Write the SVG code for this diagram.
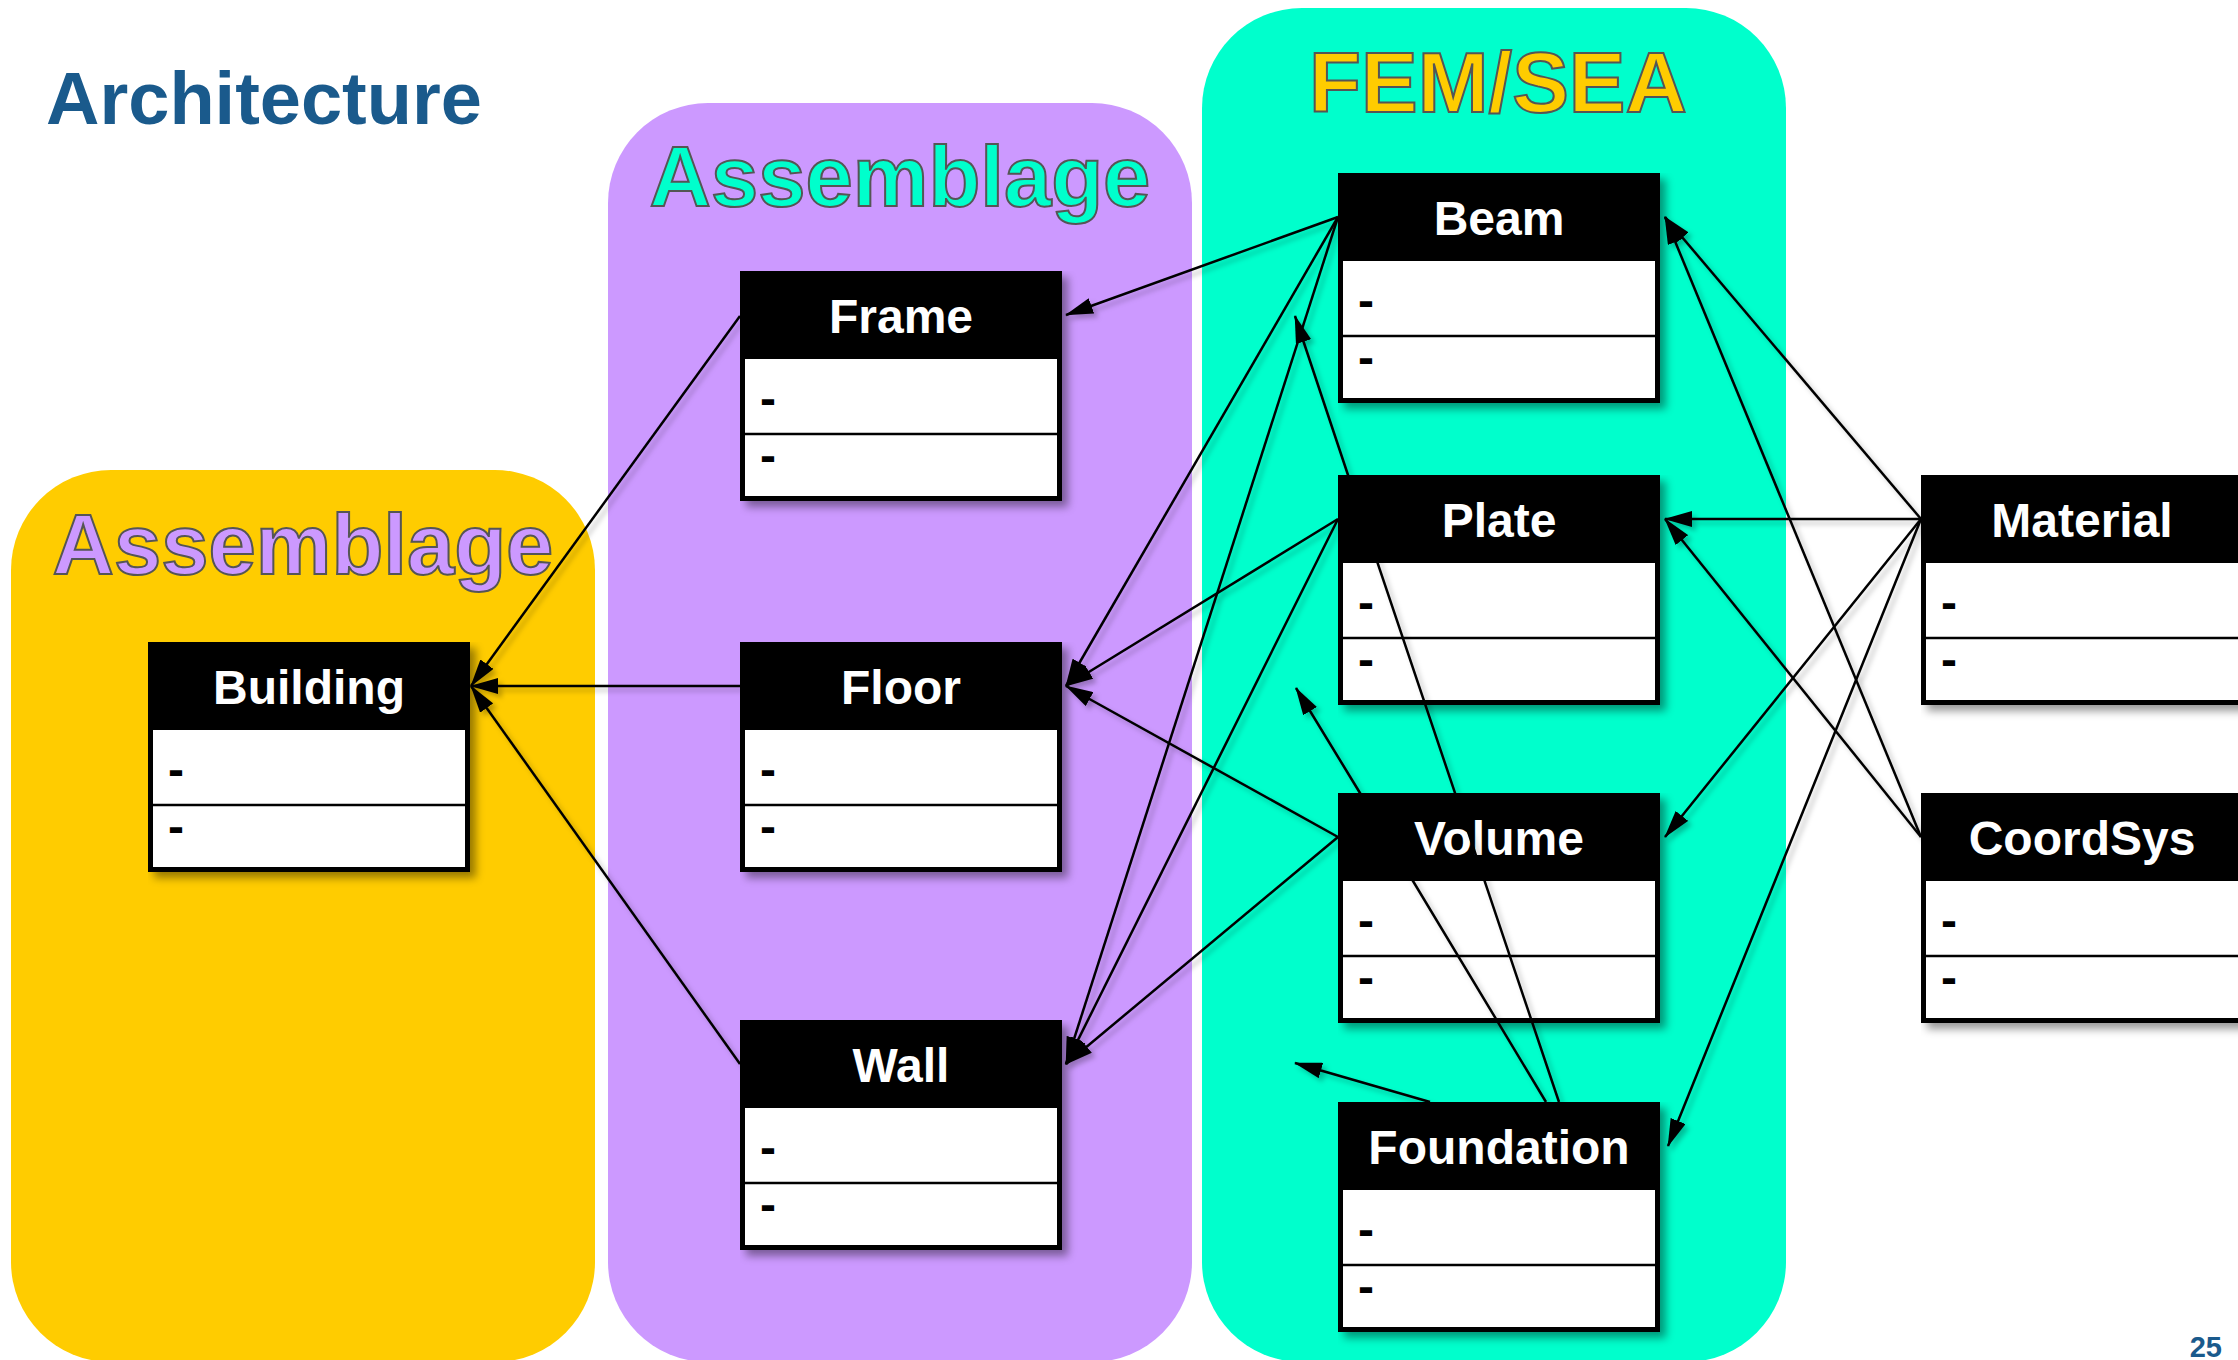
<svg xmlns="http://www.w3.org/2000/svg" width="2238" height="1360" viewBox="0 0 2238 1360">
<defs>
<style>
.title{font-family:"Liberation Sans",Arial,sans-serif;font-weight:bold;font-size:74px;fill:#1A5A8C}
.plabel{font-family:"Liberation Sans",Arial,sans-serif;font-weight:bold;font-size:85px;stroke:#555;stroke-width:2;text-anchor:middle;paint-order:fill}
.box{fill:#000}
.comp{fill:#fff}
.div{stroke:#000;stroke-width:2.5}
.nt{font-family:"Liberation Sans",Arial,sans-serif;font-weight:bold;font-size:48px;fill:#fff;text-anchor:middle}
.at{font-family:"Liberation Sans",Arial,sans-serif;font-weight:bold;font-size:48px;fill:#000}
.c{fill:none;stroke:#000;stroke-width:2.5;marker-end:url(#arr)}
</style>
<marker id="arr" viewBox="0 0 28 16" refX="27" refY="8" markerWidth="28" markerHeight="16" markerUnits="userSpaceOnUse" orient="auto">
<path d="M0,0 L28,8 L0,16 Z" fill="#000"/>
</marker>
<filter id="sh" filterUnits="userSpaceOnUse" x="0" y="0" width="2300" height="1400">
<feDropShadow dx="6" dy="6" stdDeviation="4" flood-color="#000" flood-opacity="0.4"/>
</filter>
<filter id="lsh" filterUnits="userSpaceOnUse" x="0" y="0" width="2300" height="1400">
<feDropShadow dx="4" dy="4" stdDeviation="2.5" flood-color="#000" flood-opacity="0.25"/>
</filter>
</defs>
<rect width="2238" height="1360" fill="#fff"/>

<g id="panels">
<rect x="11" y="470" width="584" height="892" rx="100" ry="100" fill="#FFCC00"/>
<rect x="608" y="103" width="584" height="1259" rx="100" ry="100" fill="#CC99FF"/>
<rect x="1202" y="8" width="584" height="1354" rx="100" ry="100" fill="#00FFCC"/>
<text class="plabel" x="303" y="574" fill="#CC99FF">Assemblage</text>
<text class="plabel" x="900" y="206" fill="#00FFCC">Assemblage</text>
<text class="plabel" x="1498" y="112" fill="#FFCC00">FEM/SEA</text>
</g>

<text class="title" x="46" y="124">Architecture</text>
<text x="2222" y="1357" text-anchor="end" style="font-family:'Liberation Sans',Arial,sans-serif;font-weight:bold;font-size:29px;fill:#1A5A8C">25</text>

<g id="node-building" transform="translate(148,642)">
<rect class="box" width="322" height="230" filter="url(#sh)"/>
<rect class="comp" x="5" y="88" width="312" height="137"/>
<line class="div" x1="5" y1="163" x2="317" y2="163"/>
<text class="nt" x="161" y="62">Building</text>
<text class="at" x="20" y="144">-</text>
<text class="at" x="20" y="201">-</text>
</g>

<g id="node-frame" transform="translate(740,271)">
<rect class="box" width="322" height="230" filter="url(#sh)"/>
<rect class="comp" x="5" y="88" width="312" height="137"/>
<line class="div" x1="5" y1="163" x2="317" y2="163"/>
<text class="nt" x="161" y="62">Frame</text>
<text class="at" x="20" y="144">-</text>
<text class="at" x="20" y="201">-</text>
</g>

<g id="node-floor" transform="translate(740,642)">
<rect class="box" width="322" height="230" filter="url(#sh)"/>
<rect class="comp" x="5" y="88" width="312" height="137"/>
<line class="div" x1="5" y1="163" x2="317" y2="163"/>
<text class="nt" x="161" y="62">Floor</text>
<text class="at" x="20" y="144">-</text>
<text class="at" x="20" y="201">-</text>
</g>

<g id="node-wall" transform="translate(740,1020)">
<rect class="box" width="322" height="230" filter="url(#sh)"/>
<rect class="comp" x="5" y="88" width="312" height="137"/>
<line class="div" x1="5" y1="163" x2="317" y2="163"/>
<text class="nt" x="161" y="62">Wall</text>
<text class="at" x="20" y="144">-</text>
<text class="at" x="20" y="201">-</text>
</g>

<g id="node-beam" transform="translate(1338,173)">
<rect class="box" width="322" height="230" filter="url(#sh)"/>
<rect class="comp" x="5" y="88" width="312" height="137"/>
<line class="div" x1="5" y1="163" x2="317" y2="163"/>
<text class="nt" x="161" y="62">Beam</text>
<text class="at" x="20" y="144">-</text>
<text class="at" x="20" y="201">-</text>
</g>

<g id="node-plate" transform="translate(1338,475)">
<rect class="box" width="322" height="230" filter="url(#sh)"/>
<rect class="comp" x="5" y="88" width="312" height="137"/>
<line class="div" x1="5" y1="163" x2="317" y2="163"/>
<text class="nt" x="161" y="62">Plate</text>
<text class="at" x="20" y="144">-</text>
<text class="at" x="20" y="201">-</text>
</g>

<g id="node-volume" transform="translate(1338,793)">
<rect class="box" width="322" height="230" filter="url(#sh)"/>
<rect class="comp" x="5" y="88" width="312" height="137"/>
<line class="div" x1="5" y1="163" x2="317" y2="163"/>
<text class="nt" x="161" y="62">Volume</text>
<text class="at" x="20" y="144">-</text>
<text class="at" x="20" y="201">-</text>
</g>

<g id="node-foundation" transform="translate(1338,1102)">
<rect class="box" width="322" height="230" filter="url(#sh)"/>
<rect class="comp" x="5" y="88" width="312" height="137"/>
<line class="div" x1="5" y1="163" x2="317" y2="163"/>
<text class="nt" x="161" y="62">Foundation</text>
<text class="at" x="20" y="144">-</text>
<text class="at" x="20" y="201">-</text>
</g>

<g id="node-material" transform="translate(1921,475)">
<rect class="box" width="322" height="230" filter="url(#sh)"/>
<rect class="comp" x="5" y="88" width="312" height="137"/>
<line class="div" x1="5" y1="163" x2="317" y2="163"/>
<text class="nt" x="161" y="62">Material</text>
<text class="at" x="20" y="144">-</text>
<text class="at" x="20" y="201">-</text>
</g>

<g id="node-coordsys" transform="translate(1921,793)">
<rect class="box" width="322" height="230" filter="url(#sh)"/>
<rect class="comp" x="5" y="88" width="312" height="137"/>
<line class="div" x1="5" y1="163" x2="317" y2="163"/>
<text class="nt" x="161" y="62">CoordSys</text>
<text class="at" x="20" y="144">-</text>
<text class="at" x="20" y="201">-</text>
</g>

<g id="connectors" filter="url(#lsh)">
<path class="c" d="M740,316 L471,686"/>
<path class="c" d="M740,686 L471,686"/>
<path class="c" d="M740,1064 L471,686"/>
<path class="c" d="M1338,217 L1066,315"/>
<path class="c" d="M1338,217 L1066,686"/>
<path class="c" d="M1338,217 L1066,1064"/>
<path class="c" d="M1338,519 L1066,686"/>
<path class="c" d="M1338,519 L1066,1064"/>
<path class="c" d="M1338,837 L1066,686"/>
<path class="c" d="M1338,837 L1066,1064"/>
<path class="c" d="M1559,1102 L1348,475 L1295,316"/>
<path class="c" d="M1546,1102 L1360,793 L1296,688"/>
<path class="c" d="M1430,1102 L1295,1063"/>
<path class="c" d="M1921,519 L1665,217"/>
<path class="c" d="M1921,837 L1665,217"/>
<path class="c" d="M1921,519 L1665,519"/>
<path class="c" d="M1921,837 L1665,519"/>
<path class="c" d="M1921,519 L1665,837"/>
<path class="c" d="M1921,519 L1668,1146"/>
</g>
</svg>
